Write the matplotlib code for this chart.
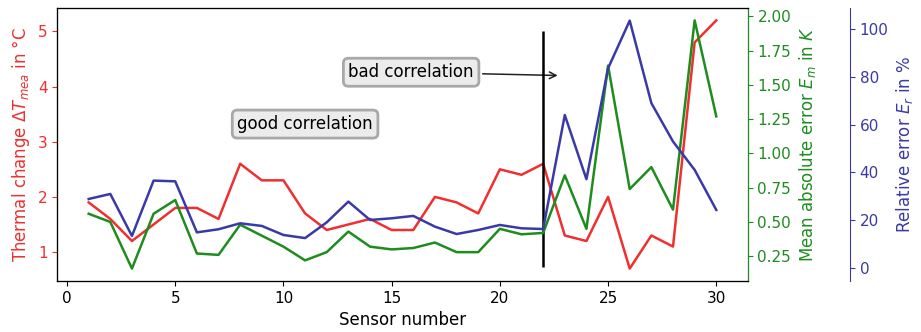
import numpy as np
import matplotlib as mpl
mpl.use('Agg')
import matplotlib.pyplot as plt

sensors = np.arange(1, 31)
delta_t = [1.9, 1.6, 1.2, 1.5, 1.8, 1.8, 1.6, 2.6, 2.3, 2.3,
           1.7, 1.4, 1.5, 1.6, 1.4, 1.4, 2.0, 1.9, 1.7, 2.5,
           2.4, 2.6, 1.3, 1.2, 2.0, 0.7, 1.3, 1.1, 4.8, 5.2]
mean_err = [0.56, 0.50, 0.16, 0.56, 0.66, 0.27, 0.26, 0.48, 0.40, 0.32,
            0.22, 0.28, 0.43, 0.32, 0.30, 0.31, 0.35, 0.28, 0.28, 0.45,
            0.41, 0.42, 0.84, 0.45, 1.64, 0.74, 0.90, 0.59, 1.97, 1.27]
rel_err = [28.8, 30.9, 13.3, 36.5, 36.2, 14.8, 16.1, 18.6, 17.5, 13.7,
           12.4, 19.0, 27.7, 20.0, 20.7, 21.7, 17.2, 14.1, 15.8, 17.9,
           16.5, 16.2, 64.0, 37.1, 83.6, 103.6, 69.0, 52.9, 41.0, 24.2]

c_red = '#ee3030'
c_green = '#1e8c1e'
c_blue = '#3a3aa6'

fig = plt.figure(figsize=(9.21, 3.32), dpi=100)
ax = fig.add_axes([0.0622, 0.1536, 0.7496, 0.8224])
ax.plot(sensors, delta_t, color=c_red, lw=1.8)
ax.set_xlabel('Sensor number', fontsize=12)
ax.set_ylabel(r'Thermal change $\Delta T_{mea}$ in °C', color=c_red, fontsize=12)
ax.tick_params(axis='y', colors=c_red, labelsize=11)
ax.tick_params(axis='x', labelsize=11)
ax.set_yticks([1, 2, 3, 4, 5])

# second axis: mean absolute error
ax2 = ax.twinx()
ax2.plot(sensors, mean_err, color=c_green, lw=1.8)
ax2.set_ylabel(r'Mean absolute error $E_m$ in $K$', color=c_green, fontsize=12)
ax2.tick_params(axis='y', colors=c_green, labelsize=11)
ax2.spines['right'].set_color(c_green)
ax2.set_yticks([0.25, 0.5, 0.75, 1.0, 1.25, 1.5, 1.75, 2.0])

# third axis: relative error
ax3 = ax.twinx()
ax3.spines['right'].set_position(('axes', 1.148))
ax3.plot(sensors, rel_err, color=c_blue, lw=1.8)
ax3.set_ylim(-5.6, 108.9)
ax3.set_ylabel(r'Relative error $E_r$ in %', color=c_blue, fontsize=12)
ax3.tick_params(axis='y', colors=c_blue, labelsize=11)
ax3.spines['right'].set_color(c_blue)

ax.vlines(22, 0.73, 5.0, color='black', lw=1.8, zorder=5)

box = dict(boxstyle='round', fc='#ececec', ec='#a8a8a8', lw=2)
ax.annotate('bad correlation', xy=(22.8, 4.2), xytext=(15.9, 4.26),
            ha='center', va='center', fontsize=12, bbox=box,
            arrowprops=dict(arrowstyle='->', color='#222222', lw=1.1))
ax.text(11.0, 3.32, 'good correlation', ha='center', va='center',
        fontsize=12, bbox=box)

fig.savefig('out.png', dpi=100)
